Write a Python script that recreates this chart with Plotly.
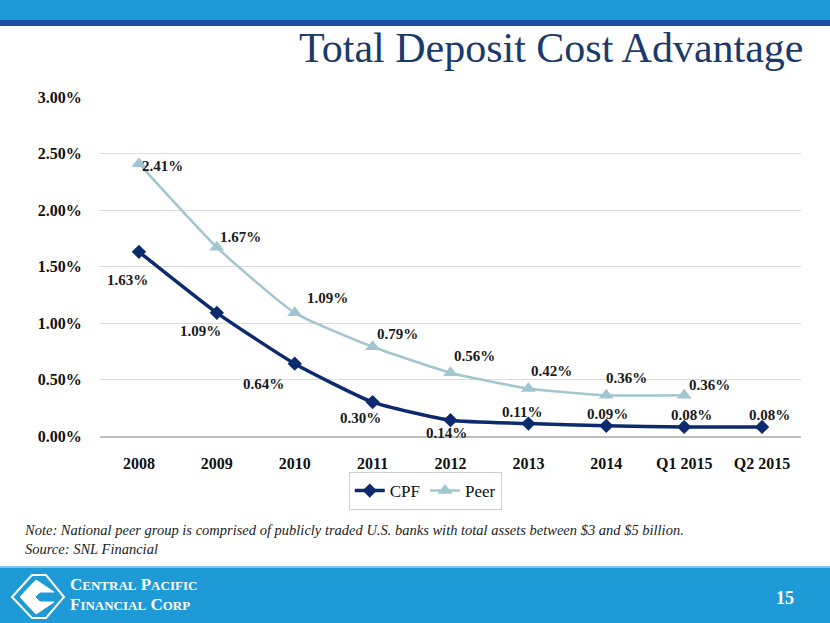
import plotly.graph_objects as go

categories = ["2008", "2009", "2010", "2011", "2012", "2013", "2014", "Q1 2015", "Q2 2015"]
cpf_values = [1.63, 1.09, 0.64, 0.30, 0.14, 0.11, 0.09, 0.08, 0.08]
peer_values = [2.41, 1.67, 1.09, 0.79, 0.56, 0.42, 0.36, 0.36]
y_ticks = [0, 0.5, 1.0, 1.5, 2.0, 2.5, 3.0]
y_tick_labels = ["0.00%", "0.50%", "1.00%", "1.50%", "2.00%", "2.50%", "3.00%"]

W, H = 830, 623
L, R, T, B = 100, 801, 97, 436

def px(x):
    return (x - L) / (R - L)

def py(y):
    return (B - y) / (B - T)

SERIF = "Liberation Serif, DejaVu Serif, serif"
CPF_COLOR = "#0c2a6e"
PEER_COLOR = "#a2c6d1"

fig = go.Figure()
fig.add_trace(go.Scatter(
    x=categories, y=cpf_values, name="CPF", mode="lines+markers",
    line=dict(color=CPF_COLOR, width=3.5, shape="spline", smoothing=0.5),
    marker=dict(symbol="diamond", size=11, color=CPF_COLOR),
))
fig.add_trace(go.Scatter(
    x=categories[:len(peer_values)], y=peer_values, name="Peer", mode="lines+markers",
    line=dict(color=PEER_COLOR, width=2.5, shape="spline", smoothing=0.5),
    marker=dict(symbol="triangle-up", size=13, color=PEER_COLOR),
))

# label offsets (pixels)
cpf_offsets = [(-11, -28), (-16, -18), (-31, -20), (-12, -16), (-4, -13), (-6, 12), (1, 12), (7, 12), (7, 12)]
peer_offsets = [(24, -2), (24, 10), (33, 15), (25, 13), (24, 17), (23, 18), (20, 17), (25, 10)]

annotations = []
lab_font = dict(family=SERIF, size=15, color="#1a1a1a")
for i, (v, (dx, dy)) in enumerate(zip(cpf_values, cpf_offsets)):
    annotations.append(dict(x=i, y=v, text="<b>%.2f%%</b>" % v, showarrow=False,
                            xshift=dx, yshift=dy, font=lab_font))
for i, (v, (dx, dy)) in enumerate(zip(peer_values, peer_offsets)):
    annotations.append(dict(x=i, y=v, text="<b>%.2f%%</b>" % v, showarrow=False,
                            xshift=dx, yshift=dy, font=lab_font))

# title
annotations.append(dict(xref="paper", yref="paper", x=px(806), y=py(48), xanchor="right", yanchor="middle",
                        text="Total Deposit Cost Advantage", showarrow=False,
                        font=dict(family=SERIF, size=42, color="#1b3a6b")))
# note
annotations.append(dict(xref="paper", yref="paper", x=px(22), y=py(520), xanchor="left", yanchor="top",
                        align="left", showarrow=False,
                        text="<i>Note: National peer group is comprised of publicly traded U.S. banks with total assets between $3 and $5 billion.<br>Source: SNL Financial</i>",
                        font=dict(family=SERIF, size=14.5, color="#222222")))
# footer texts
annotations.append(dict(xref="paper", yref="paper", x=px(68), y=py(584), xanchor="left", yanchor="middle",
                        align="left", showarrow=False,
                        text="<b>C<span style='font-size:13px'>ENTRAL</span> P<span style='font-size:13px'>ACIFIC</span></b>",
                        font=dict(family=SERIF, size=17, color="white")))
annotations.append(dict(xref="paper", yref="paper", x=px(68), y=py(604), xanchor="left", yanchor="middle",
                        align="left", showarrow=False,
                        text="<b>F<span style='font-size:13px'>INANCIAL</span> C<span style='font-size:13px'>ORP</span></b>",
                        font=dict(family=SERIF, size=17, color="white")))
annotations.append(dict(xref="paper", yref="paper", x=px(785), y=py(598), xanchor="center", yanchor="middle",
                        text="<b>15</b>", showarrow=False, font=dict(family=SERIF, size=18, color="white")))

shapes = [
    dict(type="rect", xref="paper", yref="paper", x0=px(0), x1=px(W), y0=py(0), y1=py(20),
         fillcolor="#1f9ad6", line=dict(width=0), layer="below"),
    dict(type="rect", xref="paper", yref="paper", x0=px(0), x1=px(W), y0=py(20), y1=py(26),
         fillcolor="#1c4fa3", line=dict(width=0), layer="below"),
    dict(type="rect", xref="paper", yref="paper", x0=px(0), x1=px(W), y0=py(566), y1=py(H),
         fillcolor="#1e9ad7", line=dict(width=0), layer="below"),
    dict(type="rect", xref="paper", yref="paper", x0=px(0), x1=px(W), y0=py(566), y1=py(568),
         fillcolor="#7cc6ea", line=dict(width=0), layer="below"),
    # logo outer shape
    dict(type="path", xref="paper", yref="paper",
         path="M %f,%f L %f,%f L %f,%f L %f,%f L %f,%f L %f,%f Z" % (
             px(12), py(597), px(32), py(575), px(46), py(575), px(64), py(597), px(46), py(618), px(32), py(618)),
         fillcolor="rgba(0,0,0,0)", line=dict(color="white", width=2)),
    dict(type="path", xref="paper", yref="paper",
         path="M %f,%f L %f,%f L %f,%f L %f,%f L %f,%f L %f,%f L %f,%f L %f,%f Z" % (
             px(20), py(597), px(36), py(580), px(54), py(592), px(40), py(592), px(35), py(597),
             px(40), py(602), px(54), py(602), px(36), py(614)),
         fillcolor="white", line=dict(color="white", width=1)),
]

fig.update_layout(
    width=W, height=H,
    margin=dict(l=L, r=W - R, t=T, b=H - B, autoexpand=False),
    paper_bgcolor="white", plot_bgcolor="white",
    showlegend=True,
    legend=dict(orientation="h", x=0.464, xanchor="center", y=py(472), yanchor="top",
                bordercolor="#d0d0d0", borderwidth=1, bgcolor="white",
                font=dict(family=SERIF, size=17, color="#111111"), itemwidth=30,
                traceorder="normal"),
    annotations=annotations,
    shapes=shapes,
    xaxis=dict(type="category", categoryorder="array", categoryarray=categories,
               range=[-0.5, len(categories) - 0.5],
               showgrid=False, showline=True, linecolor="#bfbfbf", linewidth=2,
               ticks="outside", ticklen=12, tickcolor="rgba(0,0,0,0)",
               tickfont=dict(family=SERIF, size=16, color="#111111"),
               tickvals=categories, ticktext=["<b>%s</b>" % c for c in categories]),
    yaxis=dict(range=[0, 3.0], tickvals=y_ticks, ticktext=["<b>%s</b>" % t for t in y_tick_labels],
               showgrid=True, gridcolor="#dcdcdc", gridwidth=1, zeroline=False,
               ticks="outside", ticklen=14, tickcolor="rgba(0,0,0,0)",
               tickfont=dict(family=SERIF, size=16, color="#111111"), fixedrange=True),
)

fig.write_html("out.html", config={"displayModeBar": False},
               post_script="document.body.style.margin='0px';document.body.style.overflow='hidden';")
